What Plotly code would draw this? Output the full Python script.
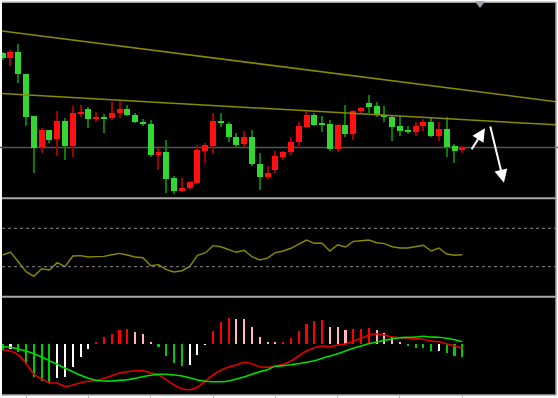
import plotly.graph_objects as go

# ---------------- data (arbitrary price units) ----------------
idx = list(range(60))

opens = [148.0, 142.7, 148.7, 126.7, 84.7, 53.3, 70.7, 61.3, 79.7, 54.3,
         87.0, 92.0, 81.7, 83.3, 82.7, 87.3, 92.0, 86.0, 79.0, 76.7,
         45.7, 49.0, 22.3, 9.3, 12.7, 18.0, 49.7, 54.7, 79.3, 77.0,
         64.0, 56.3, 64.0, 37.0, 23.3, 30.3, 44.0, 48.3, 59.0, 74.0,
         86.0, 78.0, 76.3, 52.0, 75.3, 67.0, 89.3, 97.3, 94.3, 86.0,
         83.3, 74.3, 70.3, 69.0, 74.3, 79.0, 64.3, 71.7, 54.3, 50.7]
highs = [149.0, 150.7, 156.7, 126.7, 84.7, 72.3, 70.7, 89.3, 83.0, 95.0,
         96.0, 93.3, 88.3, 86.3, 98.3, 100.0, 95.7, 87.3, 82.0, 80.7,
         52.3, 61.0, 24.3, 23.0, 20.0, 56.0, 58.0, 87.3, 87.3, 78.3,
         67.3, 70.0, 71.0, 47.7, 34.7, 49.7, 49.7, 63.7, 78.7, 88.7,
         88.0, 84.7, 80.7, 76.7, 96.0, 91.0, 94.0, 105.7, 99.0, 94.7,
         84.7, 84.3, 75.0, 78.7, 81.3, 84.0, 79.0, 83.7, 56.7, 54.7]
lows = [141.0, 135.0, 117.3, 74.7, 27.7, 47.3, 57.7, 44.7, 41.0, 43.3,
        84.0, 72.7, 78.7, 67.7, 80.7, 82.3, 84.7, 78.0, 74.7, 43.3,
        30.7, 7.7, 6.7, 8.3, 11.0, 17.3, 37.7, 46.7, 74.0, 58.3,
        54.0, 54.0, 34.7, 10.7, 21.7, 27.3, 41.0, 46.0, 52.7, 73.3,
        75.0, 68.3, 50.0, 49.0, 63.3, 61.0, 87.3, 87.7, 83.3, 78.7,
        60.0, 64.3, 66.7, 65.0, 69.3, 63.3, 59.7, 43.3, 38.0, 47.3]
closes = [143.0, 148.3, 126.3, 84.0, 52.3, 70.7, 61.0, 79.7, 54.3, 87.3,
          88.7, 81.3, 83.0, 82.3, 88.0, 91.7, 85.7, 78.7, 77.0, 45.7,
          49.0, 22.0, 9.3, 13.0, 18.3, 50.3, 55.3, 79.3, 77.3, 63.3,
          56.0, 64.0, 36.7, 23.7, 28.0, 44.3, 48.7, 58.7, 74.3, 86.0,
          75.7, 76.3, 52.0, 76.0, 67.0, 89.7, 92.3, 94.0, 85.7, 83.3,
          74.0, 69.7, 69.0, 74.7, 79.0, 64.3, 71.3, 54.0, 50.0, 52.3]

rsi = [42.2, 45.3, 35.2, 24.8, 20.0, 27.9, 26.6, 34.2, 30.0, 41.1,
       41.5, 40.1, 40.5, 40.8, 42.5, 43.9, 42.2, 40.1, 39.4, 31.0,
       32.1, 26.9, 24.5, 25.8, 30.0, 41.9, 44.3, 51.9, 50.8, 47.7,
       45.0, 47.1, 40.4, 37.0, 39.0, 44.6, 46.4, 49.2, 53.6, 57.8,
       54.4, 54.4, 46.4, 52.9, 50.5, 56.4, 57.1, 57.8, 55.0, 54.0,
       50.8, 49.5, 49.5, 51.2, 52.3, 46.4, 49.5, 43.2, 41.9, 42.5]
rsi_levels = [70, 30]

macd_hist = [-6.0, -5.3, -8.3, -20.0, -33.0, -37.3, -39.3, -34.0, -33.0, -23.0,
             -13.0, -5.0, 2.3, 6.7, 10.3, 14.0, 14.7, 12.0, 10.3, 2.3,
             -3.3, -11.7, -19.3, -22.0, -21.0, -11.0, -1.0, 13.0, 22.3, 25.7,
             25.0, 24.7, 16.7, 7.0, 1.5, 1.2, 2.3, 6.3, 13.3, 20.0,
             23.0, 23.7, 17.3, 16.7, 13.7, 15.0, 15.3, 16.0, 14.0, 11.3,
             7.0, 2.0, -2.0, -3.7, -4.0, -7.2, -7.0, -9.3, -12.0, -12.7]
dif = [-6.0, -7.0, -11.0, -19.3, -30.0, -35.0, -38.7, -39.3, -42.3, -41.0,
       -38.7, -37.3, -36.7, -34.3, -31.7, -29.0, -27.7, -26.7, -26.7, -29.0,
       -31.0, -35.7, -41.0, -44.7, -45.7, -43.0, -37.3, -31.0, -26.3, -23.0,
       -21.0, -18.3, -19.7, -22.7, -23.3, -22.0, -20.3, -17.0, -12.0, -7.0,
       -3.7, -2.0, -2.7, -1.0, 0.0, 3.0, 5.7, 9.0, 10.0, 9.0,
       7.0, 6.3, 5.7, 5.3, 4.7, 3.0, 2.3, 0.3, -2.0, -4.3]
dea = [-2.7, -3.3, -5.0, -7.0, -9.7, -13.0, -16.7, -20.3, -24.3, -27.7,
       -31.3, -34.3, -36.3, -37.0, -37.0, -36.3, -35.7, -34.3, -32.7, -31.3,
       -30.3, -30.3, -31.0, -32.0, -33.7, -36.0, -37.3, -37.7, -37.7, -37.0,
       -35.0, -33.0, -30.3, -27.7, -25.7, -22.3, -21.7, -20.7, -19.7, -18.3,
       -16.7, -14.3, -12.0, -9.7, -7.0, -4.3, -2.0, 0.3, 2.0, 3.7,
       5.0, 6.3, 6.7, 7.0, 7.7, 7.0, 6.7, 5.7, 4.3, 2.3]

support_level = 52.5
trend_upper_x = [-1, 72]
trend_upper_p = [170.0, 97.3]
trend_lower_x = [-1, 72]
trend_lower_p = [106.8, 74.7]
arrow_tails = [(60.08, 49.3), (62.55, 75.0)]
arrow_heads = [(61.91, 71.7), (64.35, 17.3)]
marker_pos = (61.27, 196.5)
x_ticks = [3, 11, 19, 27, 35, 43, 51, 59]

# ---------------- styling / layout helpers ----------------
W, H = 558, 398
def fy(px):
    return (H - px) / H

UP_BODY, UP_WICK = "#ff1010", "#a00000"
DN_BODY, DN_WICK = "#33d633", "#0b7a0b"

fig = go.Figure()

# candle wicks
wick_colors = [UP_WICK if c >= o else DN_WICK for o, c in zip(opens, closes)]
fig.add_trace(go.Bar(x=idx, base=lows, y=[h - l for h, l in zip(highs, lows)],
                     width=0.14, marker=dict(color=wick_colors, line=dict(width=0)),
                     xaxis="x", yaxis="y", hoverinfo="skip"))
# candle bodies
body_colors = [UP_BODY if c >= o else DN_BODY for o, c in zip(opens, closes)]
fig.add_trace(go.Bar(x=idx, base=[min(o, c) for o, c in zip(opens, closes)],
                     y=[max(abs(c - o), 1.2) for o, c in zip(opens, closes)],
                     width=0.77, marker=dict(color=body_colors, line=dict(width=0)),
                     xaxis="x", yaxis="y"))
# trend lines
for tx, tp in ((trend_upper_x, trend_upper_p), (trend_lower_x, trend_lower_p)):
    fig.add_trace(go.Scatter(x=tx, y=tp, mode="lines",
                             line=dict(color="#8a8a00", width=1.5),
                             xaxis="x", yaxis="y"))
# top marker
fig.add_trace(go.Scatter(x=[marker_pos[0]], y=[marker_pos[1]], mode="markers",
                         marker=dict(symbol="triangle-down", size=9, color="#8f9fb5"),
                         cliponaxis=False, xaxis="x", yaxis="y"))

# RSI
fig.add_trace(go.Scatter(x=idx, y=rsi, mode="lines",
                         line=dict(color="#8a8a00", width=1.4),
                         xaxis="x", yaxis="y2"))

# MACD histogram colors
hist_colors = []
for k, v in enumerate(macd_hist):
    prev = macd_hist[k - 1] if k > 0 else v
    if v >= 0:
        hist_colors.append("#ff0000" if v >= prev else "#ffb6c1")
    else:
        hist_colors.append("#ffffff" if (k > 0 and v > prev) else "#00cc00")
fig.add_trace(go.Bar(x=idx, y=macd_hist, width=0.27,
                     marker=dict(color=hist_colors, line=dict(width=0)),
                     xaxis="x", yaxis="y3"))
fig.add_trace(go.Scatter(x=idx, y=dif, mode="lines", line=dict(color="#e00000", width=1.6, shape="spline"),
                         xaxis="x", yaxis="y3"))
fig.add_trace(go.Scatter(x=idx, y=dea, mode="lines", line=dict(color="#00dd00", width=1.6, shape="spline"),
                         xaxis="x", yaxis="y3"))

shapes = []
# support line in main panel
shapes.append(dict(type="line", xref="paper", x0=0, x1=1, yref="y", y0=support_level, y1=support_level,
                   line=dict(color="#555555", width=1.5), layer="below"))
# RSI levels
for lv in rsi_levels:
    shapes.append(dict(type="line", xref="paper", x0=2 / W, x1=556 / W, yref="y2", y0=lv, y1=lv,
                       line=dict(color="#8c8c8c", width=1, dash="dot")))
# borders / separators
for py, col, wd in ((2.2, "#a8a8a8", 1.2), (198.3, "#a8a8a8", 2), (296.8, "#a8a8a8", 2), (395, "#a8a8a8", 1.5)):
    shapes.append(dict(type="line", xref="paper", yref="paper", x0=2 / W, x1=556 / W,
                       y0=fy(py), y1=fy(py), line=dict(color=col, width=wd)))
shapes.append(dict(type="line", xref="paper", yref="paper", x0=556 / W, x1=556 / W,
                   y0=fy(395), y1=fy(2), line=dict(color="#a8a8a8", width=1.5)))

annotations = []
for (tx, tp), (hx, hp) in zip(arrow_tails, arrow_heads):
    annotations.append(dict(x=hx, y=hp, ax=tx, ay=tp, xref="x", yref="y", axref="x", ayref="y",
                            text="", showarrow=True, arrowhead=2, arrowsize=1.3, arrowwidth=2,
                            arrowcolor="#ffffff", standoff=0, startstandoff=0))

xr = [-0.09, 71.03]
fig.update_layout(
    width=W, height=H, margin=dict(l=0, r=0, t=0, b=0),
    paper_bgcolor="#ffffff", plot_bgcolor="#000000",
    showlegend=False, barmode="overlay", bargap=0, hovermode=False,
    xaxis=dict(domain=[2 / W, 556 / W], range=xr, anchor="y3", showgrid=False, zeroline=False,
               showticklabels=False, ticks="outside", ticklen=3, tickcolor="#bbbbbb",
               tickvals=x_ticks, showline=False),
    yaxis=dict(domain=[fy(198), fy(2.5)], range=[2, 197.5], showgrid=False, zeroline=False,
               showticklabels=False, anchor="x"),
    yaxis2=dict(domain=[fy(297), fy(198)], range=[-1.56, 101.56], showgrid=False, zeroline=False,
                showticklabels=False, anchor="x"),
    yaxis3=dict(domain=[fy(395), fy(297)], range=[-51, 47], showgrid=False, zeroline=False,
                showticklabels=False, anchor="x"),
    shapes=shapes, annotations=annotations,
)

fig.write_html("out.html", config={"displayModeBar": False},
               post_script="document.body.style.margin='0px';document.body.style.padding='0px';document.body.style.overflow='hidden';")
